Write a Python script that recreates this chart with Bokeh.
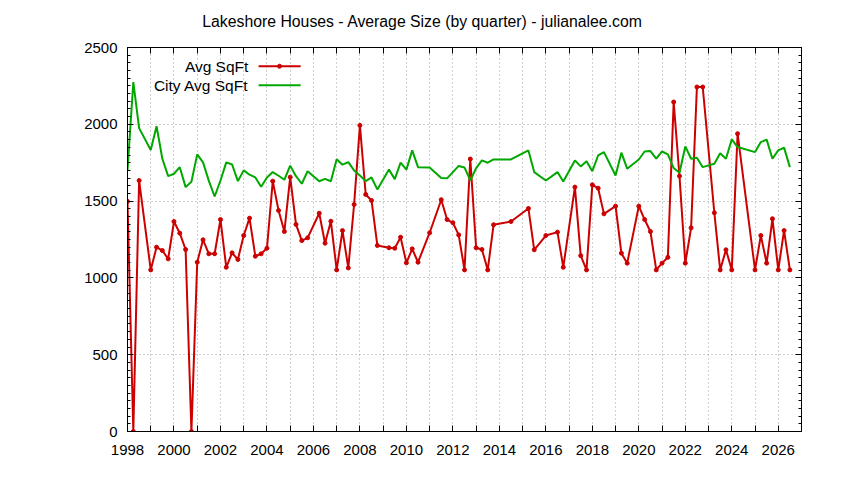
from bokeh.plotting import figure
from bokeh.models import (FixedTicker, SingleIntervalTicker, LinearAxis, Range1d,
                          Label, Arrow, ColumnDataSource, CustomJSTickFormatter)
from bokeh.embed import file_html
from bokeh.resources import INLINE

TITLE = "Lakeshore Houses - Average Size (by quarter) - julianalee.com"
SERIES_NAMES = ["Avg SqFt", "City Avg SqFt"]

# Lakeshore average square feet, by quarter (decimal year)
avg_dates = [1998.0, 1998.25, 1998.5, 1999.0, 1999.25, 1999.5, 1999.75,
             2000.0, 2000.25, 2000.5, 2000.75, 2001.0, 2001.25, 2001.5, 2001.75,
             2002.0, 2002.25, 2002.5, 2002.75, 2003.0, 2003.25, 2003.5, 2003.75,
             2004.0, 2004.25, 2004.5, 2004.75, 2005.0, 2005.25, 2005.5, 2005.75,
             2006.25, 2006.5, 2006.75, 2007.0, 2007.25, 2007.5, 2007.75,
             2008.0, 2008.25, 2008.5, 2008.75, 2009.25, 2009.5, 2009.75,
             2010.0, 2010.25, 2010.5, 2011.0, 2011.5, 2011.75,
             2012.0, 2012.25, 2012.5, 2012.75, 2013.0, 2013.25, 2013.5, 2013.75,
             2014.5, 2015.25, 2015.5, 2016.0, 2016.5, 2016.75,
             2017.25, 2017.5, 2017.75, 2018.0, 2018.25, 2018.5,
             2019.0, 2019.25, 2019.5, 2020.0, 2020.25, 2020.5, 2020.75,
             2021.0, 2021.25, 2021.5, 2021.75, 2022.0, 2022.25, 2022.5, 2022.75,
             2023.25, 2023.5, 2023.75, 2024.0, 2024.25,
             2025.0, 2025.25, 2025.5, 2025.75, 2026.0, 2026.25, 2026.5]
avg_sqft = [1498, 0, 1634, 1052, 1200, 1178, 1124,
            1367, 1291, 1185, 0, 1102, 1248, 1157, 1157,
            1380, 1069, 1163, 1120, 1276, 1389, 1141, 1157,
            1193, 1630, 1439, 1302, 1656, 1348, 1243, 1261,
            1421, 1226, 1369, 1052, 1308, 1065, 1478,
            1993, 1543, 1504, 1211, 1196, 1193, 1265,
            1098, 1189, 1102, 1294, 1509, 1380,
            1359, 1280, 1052, 1774, 1196, 1185, 1052, 1346,
            1367, 1452, 1183, 1276, 1298, 1069,
            1591, 1145, 1052, 1606, 1584, 1417,
            1467, 1161, 1096, 1467, 1380, 1302, 1052,
            1096, 1134, 2145, 1663, 1096, 1326, 2243, 2243,
            1424, 1052, 1183, 1052, 1939,
            1052, 1276, 1096, 1385, 1052, 1308, 1052]

# City average square feet, by quarter (decimal year)
city_dates = [1998.0, 1998.25, 1998.5, 1999.0, 1999.25, 1999.5, 1999.75,
              2000.0, 2000.25, 2000.5, 2000.75, 2001.0, 2001.25, 2001.5, 2001.75,
              2002.0, 2002.25, 2002.5, 2002.75, 2003.0, 2003.25, 2003.5, 2003.75,
              2004.0, 2004.25, 2004.5, 2004.75, 2005.0, 2005.25, 2005.5, 2005.75,
              2006.25, 2006.5, 2006.75, 2007.0, 2007.25, 2007.5, 2007.75,
              2008.0, 2008.25, 2008.5, 2008.75, 2009.25, 2009.5, 2009.75,
              2010.0, 2010.25, 2010.5, 2011.0, 2011.5, 2011.75,
              2012.25, 2012.5, 2012.75, 2013.0, 2013.25, 2013.5, 2013.75,
              2014.5, 2015.25, 2015.5, 2016.0, 2016.5, 2016.75,
              2017.25, 2017.5, 2017.75, 2018.0, 2018.25, 2018.5,
              2019.0, 2019.25, 2019.5, 2020.0, 2020.25, 2020.5, 2020.75,
              2021.0, 2021.25, 2021.5, 2021.75, 2022.0, 2022.25, 2022.5, 2022.75,
              2023.25, 2023.5, 2023.75, 2024.0, 2024.25,
              2025.0, 2025.25, 2025.5, 2025.75, 2026.0, 2026.25, 2026.5]
city_sqft = [1700, 2275, 1975, 1833, 1987, 1776, 1663,
             1678, 1721, 1591, 1626, 1804, 1752, 1632, 1530,
             1634, 1752, 1738, 1630, 1700, 1672, 1654, 1594,
             1654, 1689, 1665, 1639, 1731, 1662, 1613, 1695,
             1629, 1645, 1629, 1773, 1737, 1754, 1700,
             1667, 1630, 1654, 1576, 1705, 1643, 1750,
             1705, 1830, 1721, 1719, 1650, 1648,
             1729, 1719, 1634, 1715, 1765, 1750, 1771,
             1771, 1830, 1689, 1634, 1689, 1628,
             1765, 1726, 1760, 1695, 1797, 1819,
             1667, 1815, 1711, 1771, 1823, 1826, 1776,
             1823, 1804, 1715, 1685, 1856, 1776, 1782, 1721,
             1743, 1812, 1776, 1902, 1852,
             1819, 1884, 1900, 1776, 1830, 1848, 1721]

x_all_years = list(range(1998, 2027))
x_label_years = [yr for yr in x_all_years if yr % 2 == 0]
x_other_years = [yr for yr in x_all_years if yr % 2 == 1]

RED = "#cc0000"
GREEN = "#00a800"
FONT = "Liberation Sans"

W, H = 828, 464
B_LEFT, B_RIGHT, B_TOP, B_BOTTOM = 127, 27, 47, 33
X0, X1 = 1998, 2027
TITLE_CENTER_PX = 422

p = figure(width=W, height=H, output_backend="svg", toolbar_location=None,
           x_range=Range1d(X0, X1), y_range=Range1d(0, 2500),
           min_border_left=B_LEFT, min_border_right=B_RIGHT,
           min_border_top=B_TOP, min_border_bottom=B_BOTTOM,
           background_fill_color="white", border_fill_color="white")

bottom = p.below[0]
left = p.left[0]

p.outline_line_color = "black"
p.outline_line_width = 1
p.outline_line_alpha = 1

xticker = FixedTicker(ticks=x_label_years, minor_ticks=x_other_years)
yticker = SingleIntervalTicker(interval=500, num_minor_ticks=10)

bottom.ticker = xticker
left.ticker = yticker

top = LinearAxis(ticker=xticker)
right = LinearAxis(ticker=yticker)
p.add_layout(top, "above")
p.add_layout(right, "right")

for ax in [bottom, left, top, right]:
    ax.axis_line_color = "black"
    ax.axis_line_width = 1
    ax.major_tick_line_color = "black"
    ax.minor_tick_line_color = "black"
    ax.major_tick_in = 6
    ax.major_tick_out = 0
    ax.minor_tick_in = 3
    ax.minor_tick_out = 0
    ax.major_label_text_font = FONT
    ax.major_label_text_font_size = "15px"
    ax.major_label_text_color = "black"

for ax in [bottom, top]:
    ax.minor_tick_in = 6

bottom.major_label_standoff = 13
left.major_label_standoff = 10
for ax in [top, right]:
    ax.major_label_text_font_size = "1px"
    ax.major_label_text_color = None
    ax.major_label_standoff = 0

# chart title: drawn as the single label of a bare outer top axis,
# centred on the whole canvas (as in the original)
frame_w = W - B_LEFT - B_RIGHT
title_pos = X0 + (TITLE_CENTER_PX - B_LEFT) / frame_w * (X1 - X0)
title_axis = LinearAxis(ticker=FixedTicker(ticks=[title_pos], minor_ticks=[]),
                        formatter=CustomJSTickFormatter(args=dict(t=TITLE),
                                                        code="return t"),
                        axis_line_color=None, major_tick_line_color=None,
                        minor_tick_line_color=None,
                        major_tick_in=0, major_tick_out=0,
                        minor_tick_in=0, minor_tick_out=0,
                        major_label_standoff=18,
                        major_label_text_font=FONT,
                        major_label_text_font_size="15.8px",
                        major_label_text_color="black")
p.add_layout(title_axis, "above")

p.xgrid.ticker = FixedTicker(ticks=x_all_years, minor_ticks=[])
p.xgrid.grid_line_color = "#a0a0a0"
p.xgrid.grid_line_dash = "1 3"
p.ygrid.grid_line_color = "#a0a0a0"
p.ygrid.grid_line_dash = "1 3"

src_avg = ColumnDataSource(dict(x=avg_dates, y=avg_sqft))
src_city = ColumnDataSource(dict(x=city_dates, y=city_sqft))

p.line("x", "y", source=src_avg, line_color=RED, line_width=2)
p.scatter("x", "y", source=src_avg, size=4, marker="circle",
          fill_color=RED, line_color=RED)
p.line("x", "y", source=src_city, line_color=GREEN, line_width=2)

# gnuplot-style legend: label text at left, line sample at right
leg_y = [2378, 2254]
leg_colors = [RED, GREEN]
for name, yy, col in zip(SERIES_NAMES, leg_y, leg_colors):
    p.add_layout(Label(x=2003.2, y=yy, text=name, text_align="right",
                       text_baseline="middle", text_font=FONT,
                       text_font_size="15.5px", text_color="black"))
    p.add_layout(Arrow(end=None, x_start=2003.64, y_start=yy, x_end=2005.45,
                       y_end=yy, line_color=col, line_width=2))
p.scatter(x=[2004.54], y=[leg_y[0]], size=4, marker="circle",
          fill_color=RED, line_color=RED)

open("out.html", "w").write(file_html(p, INLINE))
